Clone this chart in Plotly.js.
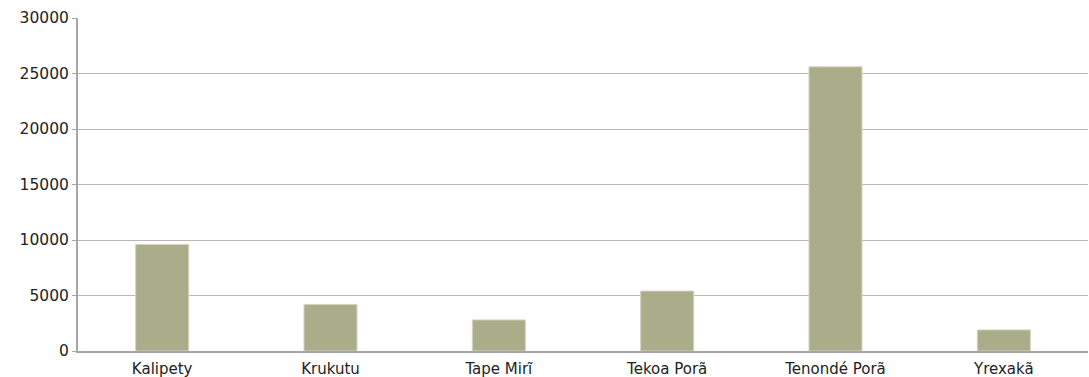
<!DOCTYPE html>
<html>
<head>
<meta charset="utf-8">
<script src="https://cdn.plot.ly/plotly-3.0.1.min.js"></script>
<style>html,body{margin:0;padding:0;background:#fff;}#chart{width:1089px;height:377px;}</style>
</head>
<body>
<div id="chart"></div>
<script>
const categories = ["Kalipety", "Krukutu", "Tape Mirĩ", "Tekoa Porã", "Tenondé Porã", "Yrexakã"];
const values = [9600, 4200, 2800, 5400, 25600, 1900];
const yTicks = [0, 5000, 10000, 15000, 20000, 25000, 30000];

Plotly.newPlot("chart", [{
  type: "bar",
  x: categories,
  y: values,
  width: 0.315,
  marker: {color: "#a9ad89", line: {color: "#d2d4bf", width: 1}},
  hoverinfo: "x+y"
}], {
  width: 1089, height: 377,
  margin: {l: 78, r: 1, t: 18, b: 26},
  paper_bgcolor: "#fff", plot_bgcolor: "#fff",
  font: {family: "'DejaVu Sans', sans-serif", size: 15, color: "#222"},
  showlegend: false,
  bargap: 0,
  xaxis: {
    type: "category",
    showline: true, linecolor: "#a6a6a6", linewidth: 2,
    showgrid: false, ticks: "", tickfont: {size: 15},
    ticklabelstandoff: 3
  },
  yaxis: {
    range: [0, 30000],
    tickvals: yTicks,
    ticktext: yTicks.map(String),
    showline: true, linecolor: "#a6a6a6", linewidth: 2,
    showgrid: true, gridcolor: "#b8b8b8", gridwidth: 1,
    zeroline: false,
    ticks: "outside", ticklen: 4, tickcolor: "#a6a6a6",
    tickfont: {size: 15.5}
  }
}, {displayModeBar: false, staticPlot: true});
</script>
</body>
</html>
